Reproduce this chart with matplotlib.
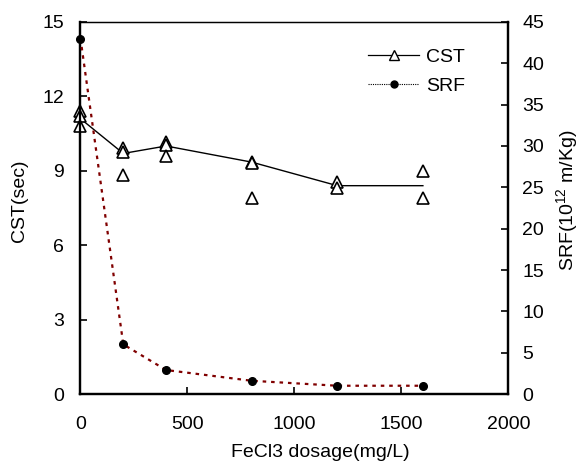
#!/usr/bin/env python3
"""CST and SRF of sludge against FeCl3 dosage, on twin y axes."""

import matplotlib
matplotlib.use("Agg")
import matplotlib.pyplot as plt
from matplotlib.lines import Line2D

plt.rcParams["font.family"] = ["Liberation Sans", "DejaVu Sans"]
plt.rcParams["mathtext.fontset"] = "custom"
plt.rcParams["mathtext.rm"] = "Liberation Sans"

# ---------------------------------------------------------------------------
# Data
# ---------------------------------------------------------------------------
dosage = [0, 200, 400, 800, 1200, 1600]

# individual CST readings (sec) at each dosage
cst_dosage = [0, 0, 0,
              200, 200, 200,
              400, 400, 400,
              800, 800, 800,
              1200, 1200,
              1600, 1600]
cst_values = [11.4, 11.2, 10.8,
              9.9, 9.75, 8.85,
              10.15, 10.05, 9.6,
              9.35, 9.3, 7.9,
              8.55, 8.3,
              9.0, 7.9]

# CST trend line
cst_line = [11.1, 9.7, 10.0, 9.35, 8.4, 8.4]

# SRF (10^12 m/Kg)
srf_values = [43.0, 6.0, 2.9, 1.6, 1.0, 1.0]

# ---------------------------------------------------------------------------
# Figure
# ---------------------------------------------------------------------------
fig = plt.figure(figsize=(5.82, 4.66), dpi=100)
ax = fig.add_axes([0.1383, 0.1545, 0.7354, 0.7983])
ax2 = ax.twinx()

fs = 14
srf_color = "#800000"

# -- CST (left axis) ---------------------------------------------------------
ax.plot(dosage, cst_line, color="black", linewidth=1.0, zorder=3)
ax.plot(cst_dosage, cst_values, linestyle="none", marker="^", markersize=8.8,
        markerfacecolor="white", markeredgecolor="black",
        markeredgewidth=1.2, clip_on=False, zorder=4)

# -- SRF (right axis) --------------------------------------------------------
ax2.plot(dosage, srf_values, color=srf_color, linewidth=1.6,
         linestyle=(0, (1.6, 2.2)), zorder=3, clip_on=False)
ax2.plot(dosage, srf_values, linestyle="none", marker="o", markersize=5.5,
         color="black", clip_on=False, zorder=4)

# -- Axes --------------------------------------------------------------------
ax.set_xlim(0, 2000)
ax.set_ylim(0, 15)
ax2.set_ylim(0, 45)
ax.set_xticks([0, 500, 1000, 1500, 2000])
ax.set_yticks([0, 3, 6, 9, 12, 15])
ax2.set_yticks(range(0, 46, 5))

ax.tick_params(axis="x", direction="in", length=5, width=1.2,
               labelsize=fs, pad=16)
ax.tick_params(axis="y", direction="in", length=5, width=1.2,
               labelsize=fs, pad=12)
ax2.tick_params(axis="y", direction="in", length=5, width=1.2,
                labelsize=fs, pad=10)

for a in (ax, ax2):
    a.spines["left"].set_linewidth(1.6)
    a.spines["bottom"].set_linewidth(1.6)
    a.spines["right"].set_linewidth(1.6)
    a.spines["top"].set_linewidth(0.9)

ax.set_xlabel("FeCl3 dosage(mg/L)", fontsize=fs, labelpad=8, x=0.56)
ax.set_ylabel("CST(sec)", fontsize=fs, labelpad=10, y=0.52)
ax2.set_ylabel(r"SRF(10$^{12}$ m/Kg)", fontsize=fs, labelpad=7, y=0.52)

# -- Legend ------------------------------------------------------------------
handles = [
    Line2D([], [], color="black", linewidth=0.9, marker="^", markersize=7.5,
           markerfacecolor="white", markeredgecolor="black",
           markeredgewidth=1.0),
    Line2D([], [], color="black", linewidth=0.8, linestyle=(0, (1, 1)),
           marker="o", markersize=5, markerfacecolor="black"),
]
ax2.legend(handles, ["CST", "SRF"], loc="upper left",
           bbox_to_anchor=(0.632, 0.897), bbox_transform=fig.transFigure,
           frameon=False, fontsize=fs, handlelength=2.65, handletextpad=0.36,
           labelspacing=0.62, borderpad=0, borderaxespad=0)

fig.savefig("out.png", dpi=100, facecolor="white")
